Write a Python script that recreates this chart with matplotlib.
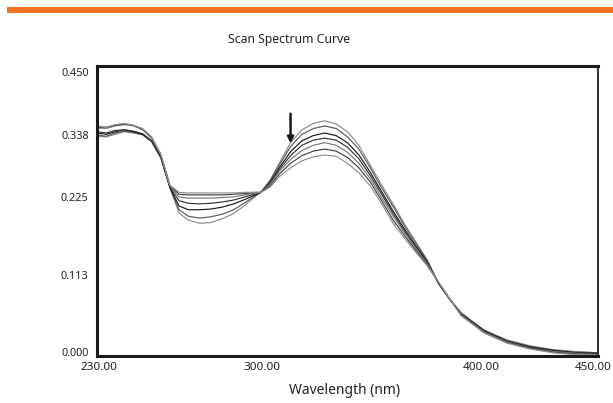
import matplotlib
matplotlib.use("Agg")
import matplotlib.pyplot as plt
from matplotlib.patches import Rectangle

# ---------------- data ----------------
wavelength = [230, 234, 238, 242, 246, 250, 254, 258, 262, 266, 270, 275, 280, 285,
              290, 295, 300, 302, 306, 310, 315, 320, 325, 330, 335, 340, 345, 350,
              355, 360, 365, 370, 375, 380, 385, 390, 400, 410, 420, 430, 440, 450]

scan1 = [0.341, 0.340, 0.344, 0.348, 0.346, 0.343, 0.332, 0.307, 0.261, 0.222, 0.211, 0.206,
         0.207, 0.213, 0.221, 0.234, 0.249, 0.254, 0.273, 0.299, 0.331, 0.351, 0.361, 0.365,
         0.360, 0.348, 0.327, 0.296, 0.265, 0.236, 0.205, 0.177, 0.149, 0.112, 0.087, 0.067,
         0.040, 0.025, 0.016, 0.010, 0.007, 0.005]
scan2 = [0.343, 0.341, 0.346, 0.349, 0.347, 0.344, 0.333, 0.308, 0.261, 0.227, 0.217, 0.214,
         0.216, 0.220, 0.227, 0.238, 0.250, 0.254, 0.272, 0.296, 0.325, 0.344, 0.353, 0.357,
         0.353, 0.340, 0.321, 0.292, 0.261, 0.232, 0.202, 0.175, 0.148, 0.112, 0.087, 0.066,
         0.040, 0.024, 0.015, 0.009, 0.006, 0.005]
scan3 = [0.346, 0.344, 0.348, 0.351, 0.348, 0.344, 0.334, 0.309, 0.262, 0.233, 0.227, 0.227,
         0.228, 0.231, 0.236, 0.243, 0.251, 0.254, 0.269, 0.292, 0.317, 0.334, 0.342, 0.346,
         0.342, 0.331, 0.312, 0.285, 0.255, 0.225, 0.197, 0.171, 0.146, 0.113, 0.088, 0.065,
         0.039, 0.023, 0.014, 0.009, 0.005, 0.004]
scan4 = [0.348, 0.346, 0.350, 0.351, 0.349, 0.345, 0.334, 0.310, 0.263, 0.241, 0.237, 0.236,
         0.237, 0.239, 0.242, 0.247, 0.252, 0.254, 0.268, 0.289, 0.311, 0.327, 0.335, 0.338,
         0.335, 0.324, 0.306, 0.280, 0.251, 0.221, 0.194, 0.169, 0.144, 0.113, 0.088, 0.064,
         0.038, 0.022, 0.013, 0.008, 0.005, 0.003]
scan5 = [0.354, 0.353, 0.357, 0.359, 0.357, 0.351, 0.338, 0.312, 0.264, 0.247, 0.245, 0.245,
         0.245, 0.246, 0.247, 0.250, 0.253, 0.254, 0.266, 0.286, 0.305, 0.319, 0.327, 0.331,
         0.327, 0.316, 0.299, 0.275, 0.246, 0.217, 0.191, 0.167, 0.143, 0.114, 0.088, 0.064,
         0.037, 0.022, 0.012, 0.007, 0.004, 0.002]
scan6 = [0.355, 0.355, 0.358, 0.360, 0.358, 0.352, 0.339, 0.313, 0.265, 0.251, 0.250, 0.250,
         0.250, 0.250, 0.251, 0.252, 0.254, 0.254, 0.264, 0.282, 0.299, 0.311, 0.318, 0.321,
         0.318, 0.308, 0.292, 0.270, 0.241, 0.211, 0.187, 0.164, 0.141, 0.114, 0.088, 0.063,
         0.036, 0.021, 0.012, 0.006, 0.003, 0.002]
scan7 = [0.357, 0.355, 0.359, 0.361, 0.358, 0.353, 0.340, 0.313, 0.265, 0.254, 0.253, 0.253,
         0.253, 0.253, 0.253, 0.254, 0.254, 0.254, 0.262, 0.278, 0.292, 0.303, 0.309, 0.312,
         0.310, 0.299, 0.284, 0.264, 0.236, 0.206, 0.183, 0.161, 0.140, 0.115, 0.088, 0.062,
         0.036, 0.020, 0.011, 0.005, 0.002, 0.002]

scans = [scan1, scan2, scan3, scan4, scan5, scan6, scan7]
scan_colors = ['#8c8c8c', '#5a5a5a', '#1a1a1a', '#333333', '#7a7a7a', '#444444', '#909090']

x_tick_labels = ['230.00', '300.00', '400.00', '450.00']
y_tick_labels = ['0.000', '0.113', '0.225', '0.338', '0.450']
# where the instrument software printed the labels along the axes
x_tick_pos = [231.0, 302.5, 398.6, 448.0]
y_tick_pos = [0.0056, 0.126, 0.246, 0.3425, 0.440]

arrow_x = 315
arrow_top = 0.376
arrow_tip = 0.330

title = 'Scan Spectrum Curve'
xlabel = 'Wavelength (nm)'

# ---------------- figure ----------------
plt.rcParams['font.family'] = ['Noto Sans', 'DejaVu Sans']
fig = plt.figure(figsize=(6.13, 4.03), dpi=100)
W, H = 613, 403
ax = fig.add_axes([97 / W, (H - 356) / H, (598 - 97) / W, (356 - 66) / H])

for s, c in zip(scans, scan_colors):
    ax.plot(wavelength, s, color=c, lw=0.85, solid_joinstyle='round')

ax.set_xlim(230, 450)
ax.set_ylim(0, 0.45)
ax.set_xticks(x_tick_pos)
ax.set_xticklabels(x_tick_labels)
ax.set_yticks(y_tick_pos)
ax.set_yticklabels(y_tick_labels)
ax.tick_params(axis='both', length=0, colors='#222222')
ax.tick_params(axis='x', pad=4, labelsize=8.4)
ax.tick_params(axis='y', pad=6, labelsize=7.8)

for side in ['left', 'bottom', 'top']:
    ax.spines[side].set_linewidth(2.2)
    ax.spines[side].set_color('#1a1a1a')
ax.spines['right'].set_linewidth(1.5)
ax.spines['right'].set_color('#333333')

ax.annotate('', xy=(arrow_x, arrow_tip), xytext=(arrow_x, arrow_top),
            arrowprops=dict(arrowstyle='-|>', color='#1a1a1a', lw=1.8,
                            mutation_scale=9, shrinkA=0, shrinkB=0))

fig.text(289 / W, (H - 40) / H, title, ha='center', va='center', fontsize=8.8, color='#222222')
fig.text(345 / W, (H - 391) / H, xlabel, ha='center', va='center', fontsize=10, color='#222222')

# orange header bar
fig.patches.append(Rectangle((7 / W, (H - 13) / H), 1 - 7 / W, 6 / H,
                             transform=fig.transFigure, facecolor='#f26f21',
                             edgecolor='none'))

fig.savefig('out.png', dpi=100)
